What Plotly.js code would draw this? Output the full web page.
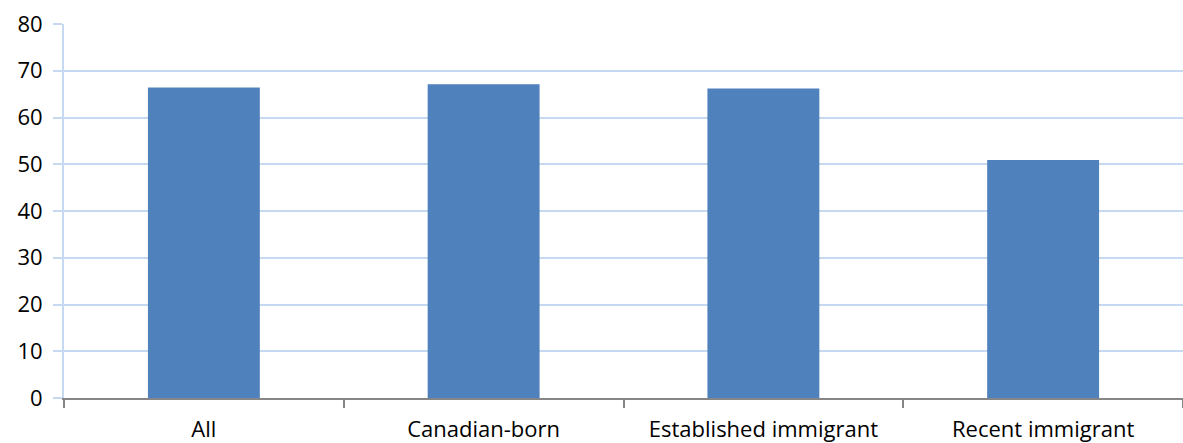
<!DOCTYPE html>
<html>
<head>
<meta charset="utf-8">
<script src="https://cdn.plot.ly/plotly-3.0.1.min.js"></script>
<style>html,body{margin:0;padding:0;background:#fff}#chart{width:1183px;height:443px}</style>
</head>
<body>
<div id="chart"></div>
<script>
const categories = ["All", "Canadian-born", "Established immigrant", "Recent immigrant"];
const values = [66.4, 67.1, 66.2, 50.9];
const yTicks = [0, 10, 20, 30, 40, 50, 60, 70, 80];

const font = {family: "Open Sans, Liberation Sans, sans-serif", size: 22, color: "#000"};

Plotly.newPlot("chart", [{
  type: "bar",
  x: categories,
  y: values,
  width: 0.4,
  marker: {color: "#4F81BD"},
  hoverinfo: "none"
}], {
  width: 1183, height: 443,
  margin: {l: 64, r: 0, t: 24, b: 45},
  paper_bgcolor: "#fff", plot_bgcolor: "#fff",
  showlegend: false,
  font: font,
  xaxis: {
    type: "category",
    tickson: "boundaries",
    ticks: "outside", ticklen: 8, tickwidth: 2, tickcolor: "#868686",
    showline: true, linecolor: "#868686", linewidth: 2,
    showgrid: false, zeroline: false,
    tickfont: font,
    ticklabelstandoff: 11,
    fixedrange: true
  },
  yaxis: {
    range: [0, 80],
    tickvals: yTicks,
    ticktext: yTicks.map(String),
    ticks: "outside", ticklen: 9, tickwidth: 2, tickcolor: "#C6D9F1",
    showline: true, linecolor: "#C6D9F1", linewidth: 2,
    showgrid: true, gridcolor: "#C6D9F1", gridwidth: 2,
    zeroline: false,
    tickfont: font,
    ticklabelstandoff: 6,
    fixedrange: true
  }
}, {displayModeBar: false, staticPlot: true});
</script>
</body>
</html>
